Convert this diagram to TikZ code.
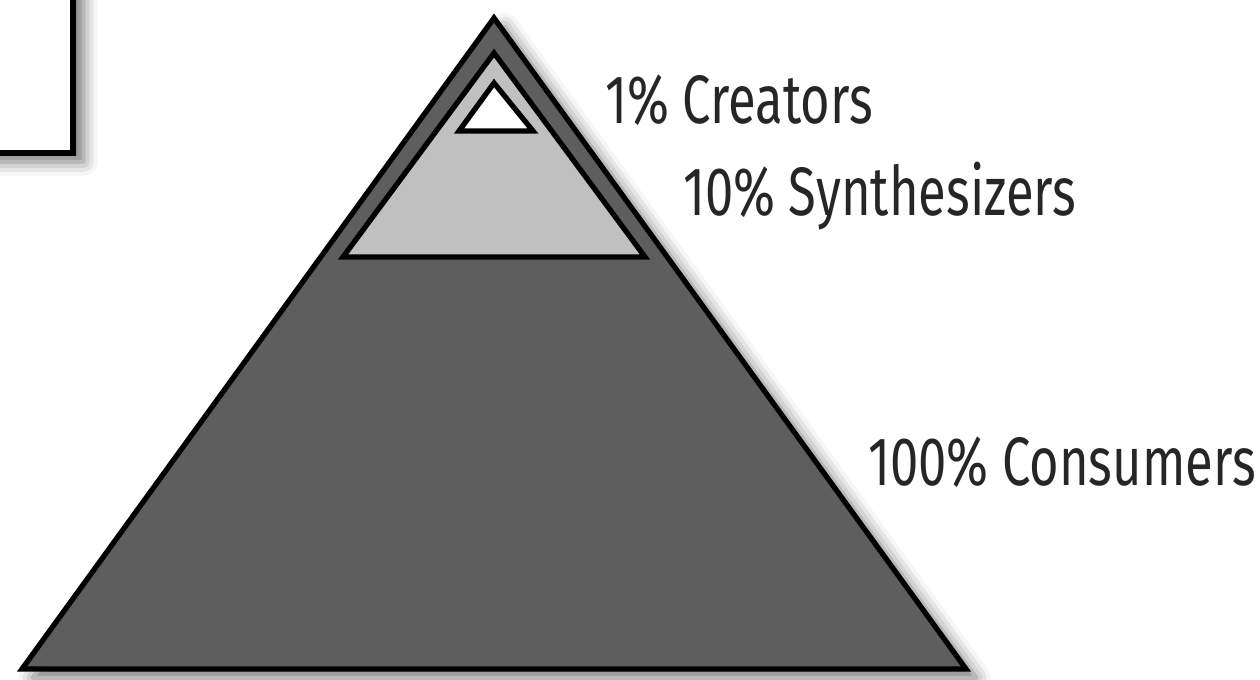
\documentclass[tikz,border=0pt]{standalone}
\usepackage{fontspec}
\setmainfont{Fira Sans}[FakeStretch=0.74]
\usetikzlibrary{shadows.blur}
\definecolor{pyrdark}{HTML}{5E5E5E}
\definecolor{pyrlight}{HTML}{C0C0C0}

\begin{document}
\begin{tikzpicture}[
  x=0.02cm, y=-0.02cm,
  layer/.style={draw=black, line width=3pt, line join=miter},
  shade/.style={blur shadow={shadow xshift=6pt, shadow yshift=-5pt, shadow blur radius=8pt, shadow opacity=55}},
  lbl/.style={anchor=base west, inner sep=0pt, font=\fontsize{39}{44}\selectfont, text=black!85}
]
  \useasboundingbox (0,0) rectangle (1260,679);
  \clip (0,0) rectangle (1260,679);

  % box cut off at the top left
  \draw[layer, fill=white, shade] (-60,-60) rectangle (73,153);

  % pyramid, outer to inner
  \draw[layer, fill=pyrdark, shade] (494,18) -- (966,669) -- (22,669) -- cycle;
  \draw[layer, fill=pyrlight] (494,53) -- (645,257) -- (343,257) -- cycle;
  \draw[layer, fill=white] (494,83) -- (533,131) -- (459,131) -- cycle;

  \node[lbl] (creators) at (605,123) {1\% Creators};
  \node[lbl] (synth) at (683,215) {10\% Synthesizers};
  \node[lbl] (consumers) at (868,485) {100\% Consumers};
\end{tikzpicture}
\end{document}
